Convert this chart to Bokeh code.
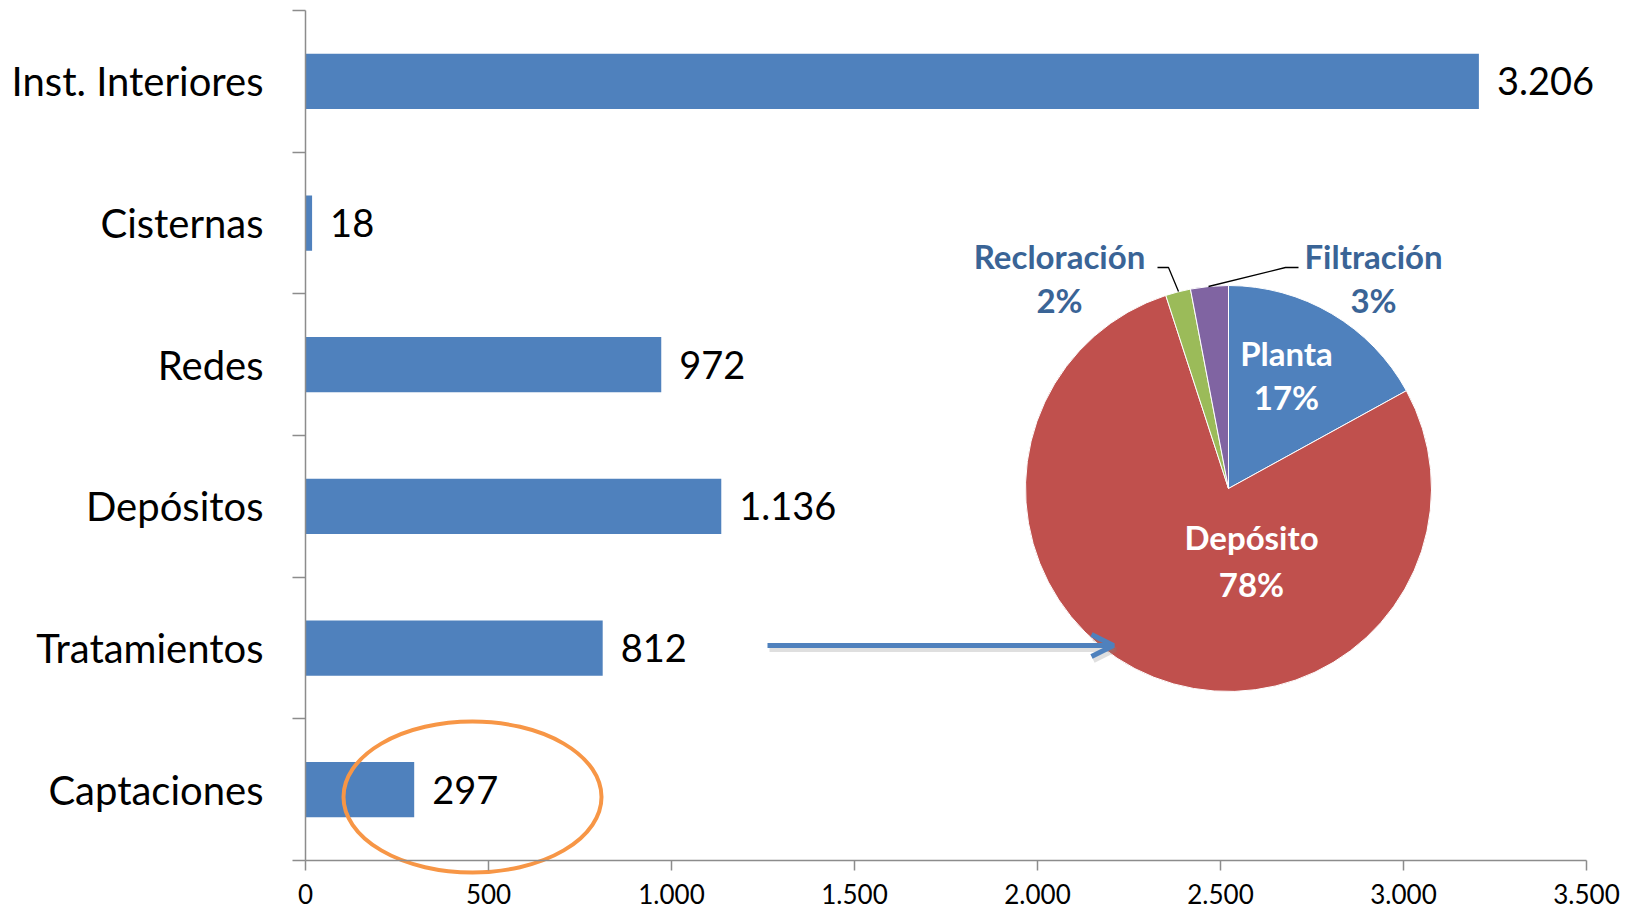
from bokeh.plotting import figure
from bokeh.models import Range1d, LinearAxis, FixedTicker, Arrow, OpenHead
from bokeh.core.properties import value
from bokeh.embed import file_html
from bokeh.resources import INLINE
import math

# ---------------- data ----------------
categories = ["Inst. Interiores", "Cisternas", "Redes", "Depósitos", "Tratamientos", "Captaciones"]
costs = [3206, 18, 972, 1136, 812, 297]
x_ticks = [0, 500, 1000, 1500, 2000, 2500, 3000, 3500]
x_tick_labels = ["0", "500", "1.000", "1.500", "2.000", "2.500", "3.000", "3.500"]

pie_labels = ["Planta", "Depósito", "Recloración", "Filtración"]
pie_values = [17, 78, 2, 3]
pie_colors = ["#4F81BD", "#C0504D", "#9BBB59", "#8064A2"]

# ---------------- layout ----------------
W, H = 1630, 914
OX, OY = 305, 10                # screen position of the value-axis origin / top of category axis
PX_PER_X = 1281 / 3500.0        # pixels per data unit along x
PX_PER_Y = 850 / 6.0            # pixels per category along y
X_START = -OX / PX_PER_X
X_END = (W - OX) / PX_PER_X
Y_END = 5.5 + OY / PX_PER_Y
Y_START = 5.5 - (H - OY) / PX_PER_Y


def px2x(sx):
    return (sx - OX) / PX_PER_X


def px2y(sy):
    return 5.5 - (sy - OY) / PX_PER_Y


BAR = "#4F81BD"
AXIS = "#8C8C8C"
FONT = "Lato"

p = figure(width=W, height=H, x_range=Range1d(X_START, X_END), y_range=Range1d(Y_START, Y_END),
           output_backend="svg", toolbar_location=None,
           x_axis_location=None, y_axis_location=None,
           min_border_left=0, min_border_right=0, min_border_top=0, min_border_bottom=0)
p.outline_line_color = None
p.background_fill_color = "white"
p.border_fill_color = "white"
p.grid.visible = False

n = len(categories)
ypos = [n - 1 - i for i in range(n)]

# value axis, drawn at the bottom category boundary
xaxis = LinearAxis(ticker=FixedTicker(ticks=x_ticks), fixed_location=-0.5, bounds=(0, 3500))
xaxis.major_label_overrides = {t: l for t, l in zip(x_ticks, x_tick_labels)}
xaxis.axis_line_color = AXIS
xaxis.axis_line_width = 1.5
xaxis.major_tick_line_color = AXIS
xaxis.major_tick_line_width = 1.5
xaxis.major_tick_out = 10
xaxis.major_tick_in = 0
xaxis.minor_tick_line_color = None
xaxis.major_label_text_font = FONT
xaxis.major_label_text_font_size = "26px"
xaxis.major_label_text_color = "black"
xaxis.major_label_standoff = 13
p.add_layout(xaxis, "below")

# category axis, drawn at value 0, tick marks between categories
bounds_ticks = [k - 0.5 for k in range(n + 1)]
yaxis = LinearAxis(ticker=FixedTicker(ticks=ypos, minor_ticks=bounds_ticks),
                   fixed_location=0, bounds=(-0.5, n - 0.5))
yaxis.major_label_overrides = {y: c for y, c in zip(ypos, categories)}
yaxis.axis_line_color = AXIS
yaxis.axis_line_width = 1.5
yaxis.major_tick_line_color = None
yaxis.major_tick_out = 0
yaxis.major_tick_in = 0
yaxis.minor_tick_line_color = AXIS
yaxis.minor_tick_line_width = 1.5
yaxis.minor_tick_out = 13
yaxis.minor_tick_in = 0
yaxis.major_label_text_font = FONT
yaxis.major_label_text_font_size = "40px"
yaxis.major_label_text_color = "black"
yaxis.major_label_standoff = 29
p.add_layout(yaxis, "left")

# bars
p.hbar(y=ypos, right=costs, left=0, height=0.39, fill_color=BAR, line_color=None)
cost_labels = [f"{v:,}".replace(",", ".") for v in costs]
p.text(x=costs, y=ypos, text=cost_labels, x_offset=18, text_baseline="middle", text_align="left",
       text_font=value(FONT), text_font_size="38px", text_color="black")

# pie
PCX, PCY = 1228, 488
cx, cy = px2x(PCX), px2y(PCY)
total = sum(pie_values)
cum = 0
starts, ends = [], []
for v in pie_values:
    starts.append(math.pi / 2 - 2 * math.pi * cum / total)
    cum += v
    ends.append(math.pi / 2 - 2 * math.pi * cum / total)
p.wedge(x=[cx] * len(pie_values), y=[cy] * len(pie_values), radius=203, radius_units="screen",
        start_angle=starts, end_angle=ends, direction="clock",
        fill_color=pie_colors, line_color="white", line_width=1)

# pie labels (name + percent), offsets relative to pie centre in pixels
lab_dx = [58, 23, -169, 145]
lab_dy1 = [-136, 48, -233, -233]
lab_dy2 = [-92, 95, -189, -189]
lab_col = ["white", "white", "#3A6496", "#3A6496"]
pct_labels = [f"{v}%" for v in pie_values]
for i in range(len(pie_values)):
    for txt, dy in ((pie_labels[i], lab_dy1[i]), (pct_labels[i], lab_dy2[i])):
        p.text(x=[cx], y=[cy], text=[txt], x_offset=lab_dx[i], y_offset=dy,
               text_align="center", text_baseline="middle", text_font=value(FONT),
               text_font_size="33px", text_font_style="bold", text_color=lab_col[i])

# leader lines
p.line(x=[px2x(1157), px2x(1168), px2x(1178)], y=[px2y(267), px2y(267), px2y(291)],
       line_color="black", line_width=1.3)
p.line(x=[px2x(1298), px2x(1285), px2x(1208)], y=[px2y(267), px2y(267), px2y(286)],
       line_color="black", line_width=1.3)

# arrow with shadow
p.add_layout(Arrow(end=OpenHead(size=22, line_color="#7F7F7F", line_width=5, line_alpha=0.25),
                   x_start=px2x(769), y_start=px2y(649), x_end=px2x(1115), y_end=px2y(649),
                   line_color="#7F7F7F", line_width=5, line_alpha=0.25))
p.add_layout(Arrow(end=OpenHead(size=22, line_color=BAR, line_width=5),
                   x_start=px2x(767), y_start=px2y(645), x_end=px2x(1113), y_end=px2y(645),
                   line_color=BAR, line_width=5))

# highlight ellipse
p.ellipse(x=[px2x(472)], y=[px2y(796.5)], width=258, height=151,
          width_units="screen", height_units="screen",
          fill_color=None, line_color="#F79646", line_width=4)

open("out.html", "w").write(file_html(p, INLINE))
